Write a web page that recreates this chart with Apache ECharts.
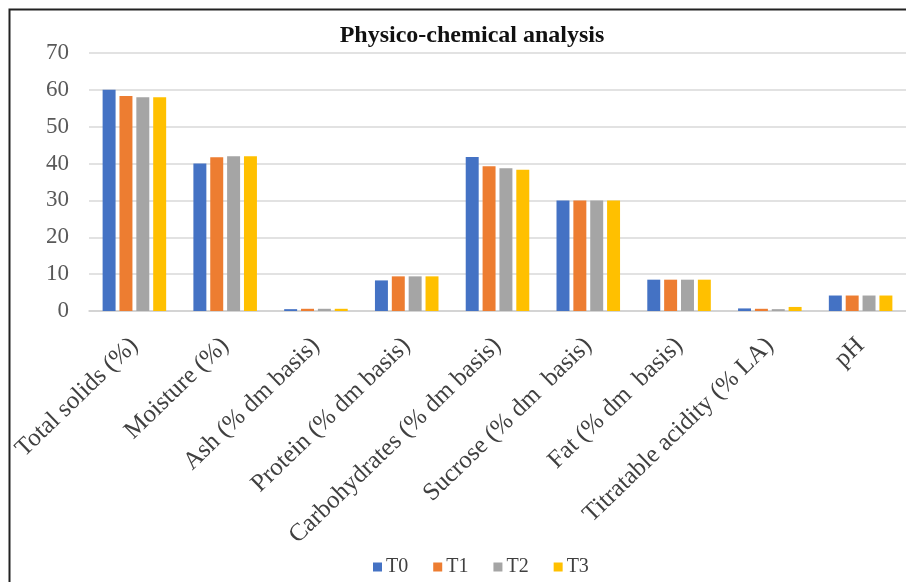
<!DOCTYPE html>
<html>
<head>
<meta charset="utf-8">
<script src="https://cdn.jsdelivr.net/npm/echarts@6/dist/echarts.min.js"></script>
<style>html,body{margin:0;padding:0;background:#fff;}#c{width:906px;height:582px;}</style>
</head>
<body>
<div id="c"></div>
<script>
const categories = ["Total solids (%)", "Moisture (%)", "Ash (% dm basis)", "Protein (% dm basis)", "Carbohydrates (% dm basis)", "Sucrose (% dm  basis)", "Fat (% dm  basis)", "Titratable acidity (% LA)", "pH"];
const seriesNames = ["T0", "T1", "T2", "T3"];
const t0 = [60, 40, 0.5, 8.3, 41.8, 30, 8.5, 0.7, 4.2];
const t1 = [58.3, 41.7, 0.6, 9.4, 39.3, 30, 8.5, 0.6, 4.2];
const t2 = [58, 42, 0.6, 9.4, 38.7, 30, 8.5, 0.5, 4.2];
const t3 = [58, 42, 0.6, 9.4, 38.3, 30, 8.5, 1.1, 4.2];
const colors = ["#4472C4", "#ED7D31", "#A5A5A5", "#FFC000"];
const yTicks = [0, 10, 20, 30, 40, 50, 60, 70];

const chart = echarts.init(document.getElementById('c'), null, {renderer: 'canvas'});
const serif = '"Liberation Serif", "DejaVu Serif", serif';
const allData = [t0, t1, t2, t3];
chart.setOption({
  animation: false,
  backgroundColor: '#ffffff',
  color: colors,
  title: {
    text: 'Physico-chemical analysis',
    left: 467, top: 19, textAlign: 'center',
    textStyle: {fontFamily: serif, fontWeight: 'bold', fontSize: 24, color: '#111'}
  },
  legend: {
    data: seriesNames,
    left: 368, top: 552,
    itemWidth: 9, itemHeight: 9, itemGap: 25,
    icon: 'rect',
    textStyle: {fontFamily: serif, fontSize: 20, color: '#404040', padding: [0, 0, 0, -1]}
  },
  graphic: [{
    type: 'rect', left: 7, top: 7, z: -1,
    shape: {width: 1000, height: 700},
    style: {fill: 'none', stroke: '#222', lineWidth: 2}
  }],
  grid: {left: 89, right: -11, top: 53, bottom: 271},
  xAxis: {
    type: 'category', data: categories,
    axisLine: {lineStyle: {color: '#d0d0d0', width: 1.5}},
    axisTick: {show: false},
    axisLabel: {rotate: 44, interval: 0, margin: 31, fontFamily: serif, fontSize: 25, color: '#404040'}
  },
  yAxis: {
    type: 'value', min: yTicks[0], max: yTicks[yTicks.length - 1], interval: 10,
    axisLine: {show: false}, axisTick: {show: false},
    axisLabel: {fontFamily: serif, fontSize: 23, color: '#595959', margin: 20},
    splitLine: {lineStyle: {color: '#d9d9d9', width: 1.5}}
  },
  series: seriesNames.map((n, i) => ({
    name: n, type: 'bar', data: allData[i],
    barGap: '30%', barCategoryGap: '30%',
    itemStyle: {color: colors[i]}
  }))
});
</script>
</body>
</html>
